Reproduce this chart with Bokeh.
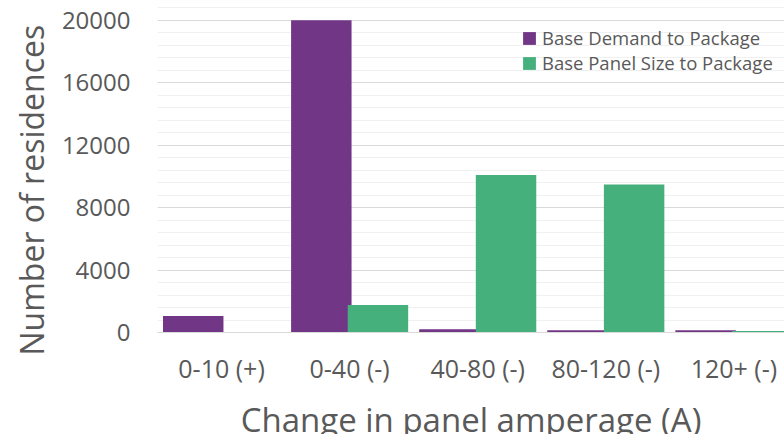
from bokeh.plotting import figure
from bokeh.models import (ColumnDataSource, Range1d, FixedTicker, Legend,
                          LegendItem, Title)
from bokeh.transform import dodge
from bokeh.embed import file_html
from bokeh.resources import INLINE

# ---- data ----
categories = ["0-10 (+)", "0-40 (-)", "40-80 (-)", "80-120 (-)", "120+ (-)"]
base_demand = [1050, 20000, 210, 150, 150]
base_panel = [0, 1760, 10080, 9470, 100]
series_names = ["Base Demand to Package", "Base Panel Size to Package"]
y_ticks = [0, 4000, 8000, 12000, 16000, 20000]
y_minor = list(range(0, 22400, 800))
x_title = "Change in panel amperage (A)"
y_title = "Number of residences"

PURPLE = "#723687"
GREEN = "#46B07C"
TXT = "#595959"
FONT = "Open Sans"

pos = list(range(len(categories)))
src = ColumnDataSource(dict(x=pos, demand=base_demand, panel=base_panel))

p = figure(frame_width=627, frame_height=332,
           min_border_left=157, min_border_right=0,
           min_border_top=0, min_border_bottom=102,
           x_range=Range1d(-0.5, 4.395), y_range=Range1d(0, 21260),
           output_backend="svg", toolbar_location=None)
p.outline_line_color = None
p.background_fill_color = "white"
p.border_fill_color = "white"

r1 = p.vbar(x=dodge("x", -0.221, range=p.x_range), top="demand", width=0.472,
            fill_color=PURPLE, line_color=None, source=src)
r2 = p.vbar(x=dodge("x", 0.221, range=p.x_range), top="panel", width=0.472,
            fill_color=GREEN, line_color=None, source=src)

# x axis
xa = p.xaxis[0]
xa.ticker = FixedTicker(ticks=pos)
xa.major_label_overrides = {i: c for i, c in zip(pos, categories)}
xa.major_tick_line_color = None
xa.minor_tick_line_color = None
xa.axis_line_color = "#d9d9d9"
xa.major_label_text_font = FONT
xa.major_label_text_font_size = "25px"
xa.major_label_text_color = TXT
xa.major_label_standoff = 12
xa.axis_label = x_title
xa.axis_label_text_font = FONT
xa.axis_label_text_font_size = "33px"
xa.axis_label_text_font_style = "normal"
xa.axis_label_text_color = TXT
xa.axis_label_standoff = 9

# y axis
ya = p.yaxis[0]
ya.ticker = FixedTicker(ticks=y_ticks, minor_ticks=y_minor)
ya.major_tick_line_color = None
ya.minor_tick_line_color = None
ya.axis_line_color = None
ya.major_label_text_font = FONT
ya.major_label_text_font_size = "24px"
ya.major_label_text_color = TXT
ya.major_label_standoff = 21

p.xgrid.grid_line_color = None
p.ygrid.ticker = ya.ticker
p.ygrid.grid_line_color = "#d9d9d9"
p.ygrid.minor_grid_line_color = "#f0f0f0"

# y title: placed like the reference (starts below the frame bottom)
p.add_layout(Title(text=y_title, align="left", offset=-23, standoff=12,
                   text_font=FONT, text_font_size="32px",
                   text_font_style="normal", text_color=TXT), "left")

legend = Legend(items=[LegendItem(label=series_names[0], renderers=[r1]),
                       LegendItem(label=series_names[1], renderers=[r2])],
                location=(364, 257), padding=0, margin=0, spacing=-1,
                glyph_width=16, glyph_height=16, label_height=16,
                label_standoff=5, label_text_font=FONT,
                label_text_font_size="18.5px", label_text_color=TXT,
                border_line_color=None, background_fill_alpha=0)
p.add_layout(legend)

open("out.html", "w").write(file_html(p, INLINE))
